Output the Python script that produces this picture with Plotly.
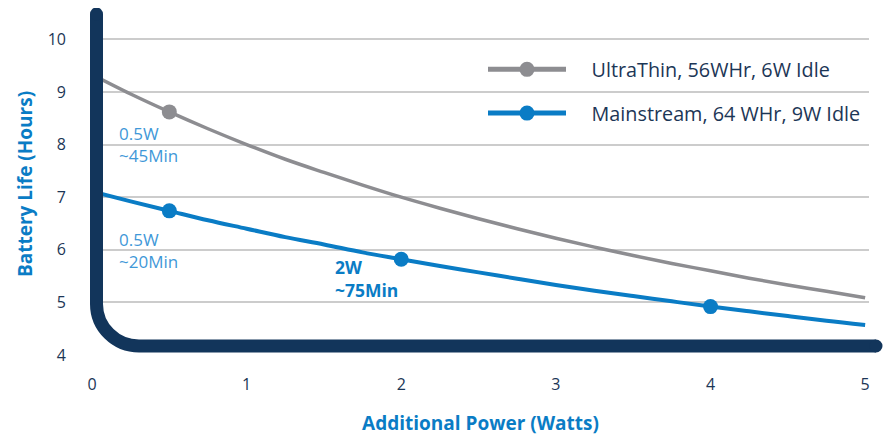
import plotly.graph_objects as go

# ---- data ----
power = [0, 0.25, 0.5, 0.75, 1, 1.25, 1.5, 1.75, 2, 2.25, 2.5, 2.75, 3,
         3.25, 3.5, 3.75, 4, 4.25, 4.5, 4.75, 5]
ultrathin = [9.33, 8.96, 8.62, 8.30, 8.00, 7.72, 7.47, 7.23, 7.00, 6.79, 6.59,
             6.40, 6.22, 6.05, 5.89, 5.74, 5.60, 5.46, 5.33, 5.21, 5.09]
mainstream = [7.11, 6.92, 6.74, 6.56, 6.40, 6.24, 6.10, 5.95, 5.82, 5.69, 5.57,
              5.45, 5.33, 5.22, 5.12, 5.02, 4.92, 4.83, 4.74, 4.65, 4.57]
ultra_mark_x = [0.5]
ultra_mark_y = [8.62]
main_mark_x = [0.5, 2, 4]
main_mark_y = [6.74, 5.82, 4.92]
x_ticks = [0, 1, 2, 3, 4, 5]
y_ticks = [4, 5, 6, 7, 8, 9, 10]
grid_vals = [5, 6, 7, 8, 9, 10]
series_names = ["UltraThin, 56WHr, 6W Idle", "Mainstream, 64 WHr, 9W Idle"]
notes = [
    dict(x=0.16, y=8.0, text="0.5W<br>~45Min", bold=False),
    dict(x=0.16, y=5.98, text="0.5W<br>~20Min", bold=False),
    dict(x=1.56, y=5.46, text="2W<br>~75Min", bold=True),
]

GRAY = "#8d8d91"
BLUE = "#0a7cc5"
LIGHT_BLUE = "#3f98d8"
NAVY = "#12355b"
TEXT = "#1c3656"
FONT = "Open Sans"

# the page body adds an 8px offset, so the figure is 8px smaller
OFF = 8
W, H = 893 - OFF, 438 - OFF
ML, MR, MT, MB = 84, 24, 5, 83
PW, PH = W - ML - MR, H - MT - MB


def px(x):  # screen x -> paper
    return (x - OFF - ML) / PW


def py(y):  # screen y -> paper
    return (H - MB - (y - OFF)) / PH


fig = go.Figure()

# curves
fig.add_trace(go.Scatter(
    x=power, y=ultrathin, mode="lines", line=dict(color=GRAY, width=3.5, shape="spline"),
    showlegend=False, hoverinfo="skip"))
fig.add_trace(go.Scatter(
    x=power, y=mainstream, mode="lines", line=dict(color=BLUE, width=4, shape="spline"),
    showlegend=False, hoverinfo="skip"))
# markers (first point of each carries the legend entry)
NB = "\u00a0" * 4
fig.add_trace(go.Scatter(
    x=ultra_mark_x[:1], y=ultra_mark_y[:1], mode="lines+markers", name=NB + series_names[0],
    legendgroup="a", line=dict(color=GRAY, width=5), marker=dict(color=GRAY, size=15)))
fig.add_trace(go.Scatter(
    x=main_mark_x[:1], y=main_mark_y[:1], mode="lines+markers", name=NB + series_names[1],
    legendgroup="b", line=dict(color=BLUE, width=5), marker=dict(color=BLUE, size=15)))
fig.add_trace(go.Scatter(
    x=main_mark_x[1:], y=main_mark_y[1:], mode="markers", showlegend=False,
    legendgroup="b", marker=dict(color=BLUE, size=15), hoverinfo="skip"))

for n in notes:
    fig.add_annotation(
        x=n["x"], y=n["y"], xref="x", yref="y", xanchor="left", yanchor="middle",
        align="left", showarrow=False,
        text=("<b>%s</b>" % n["text"]) if n["bold"] else n["text"],
        font=dict(family=FONT, size=17 if not n["bold"] else 17.5,
                  color=BLUE if n["bold"] else LIGHT_BLUE))

# decorative L-shaped axis
xv, ytop = 96.5, 14
ycurve, xh, yh, xend = 304, 139, 346, 876
k = 0.5523
path = (f"M {px(xv)},{py(ytop)} L {px(xv)},{py(ycurve)} "
        f"C {px(xv)},{py(ycurve + (yh - ycurve) * k)} "
        f"{px(xh - (xh - xv) * k)},{py(yh)} {px(xh)},{py(yh)} "
        f"L {px(xend)},{py(yh)}")
fig.add_shape(type="path", path=path, xref="paper", yref="paper",
              line=dict(color=NAVY, width=13), layer="above")
r = 6.5
for cx, cy in [(xv, ytop), (xend, yh)]:
    fig.add_shape(type="circle", xref="paper", yref="paper",
                  x0=px(cx - r), x1=px(cx + r), y0=py(cy + r), y1=py(cy - r),
                  fillcolor=NAVY, line=dict(width=0), layer="above")

fig.update_layout(
    width=W, height=H, margin=dict(l=ML, r=MR, t=MT, b=MB, autoexpand=False),
    paper_bgcolor="white", plot_bgcolor="white",
    font=dict(family=FONT, color=TEXT),
    legend=dict(x=px(483), xanchor="left", y=py(50), yanchor="top",
                bgcolor="rgba(0,0,0,0)", itemwidth=78, tracegroupgap=15,
                font=dict(family=FONT, size=19.8, color=TEXT)),
    xaxis=dict(range=[0, 5.025], tickvals=x_ticks, showgrid=False, zeroline=False,
               showline=False, ticks="", ticklabelstandoff=18, automargin=False,
               tickfont=dict(family=FONT, size=16, color=TEXT),
               title=dict(text="<b>Additional Power (Watts)</b>", standoff=22,
                          font=dict(family=FONT, size=19, color=BLUE))),
    yaxis=dict(range=[4, 10.5], tickvals=y_ticks, showgrid=False, zeroline=False,
               showline=False, ticks="", ticklabelstandoff=25, automargin=False,
               tickfont=dict(family=FONT, size=16, color=TEXT),
               title=dict(text="<b>Battery Life (Hours)</b>", standoff=10,
                          font=dict(family=FONT, size=19, color=BLUE))),
    yaxis2=dict(range=[4, 10.5], overlaying="y", tickvals=grid_vals, showgrid=True,
                gridcolor="#cccccc", gridwidth=2, showticklabels=False, zeroline=False,
                showline=False, ticks="", automargin=False),
)
fig.add_trace(go.Scatter(x=[None], y=[None], yaxis="y2", showlegend=False, hoverinfo="skip"))

fig.write_html("out.html")
